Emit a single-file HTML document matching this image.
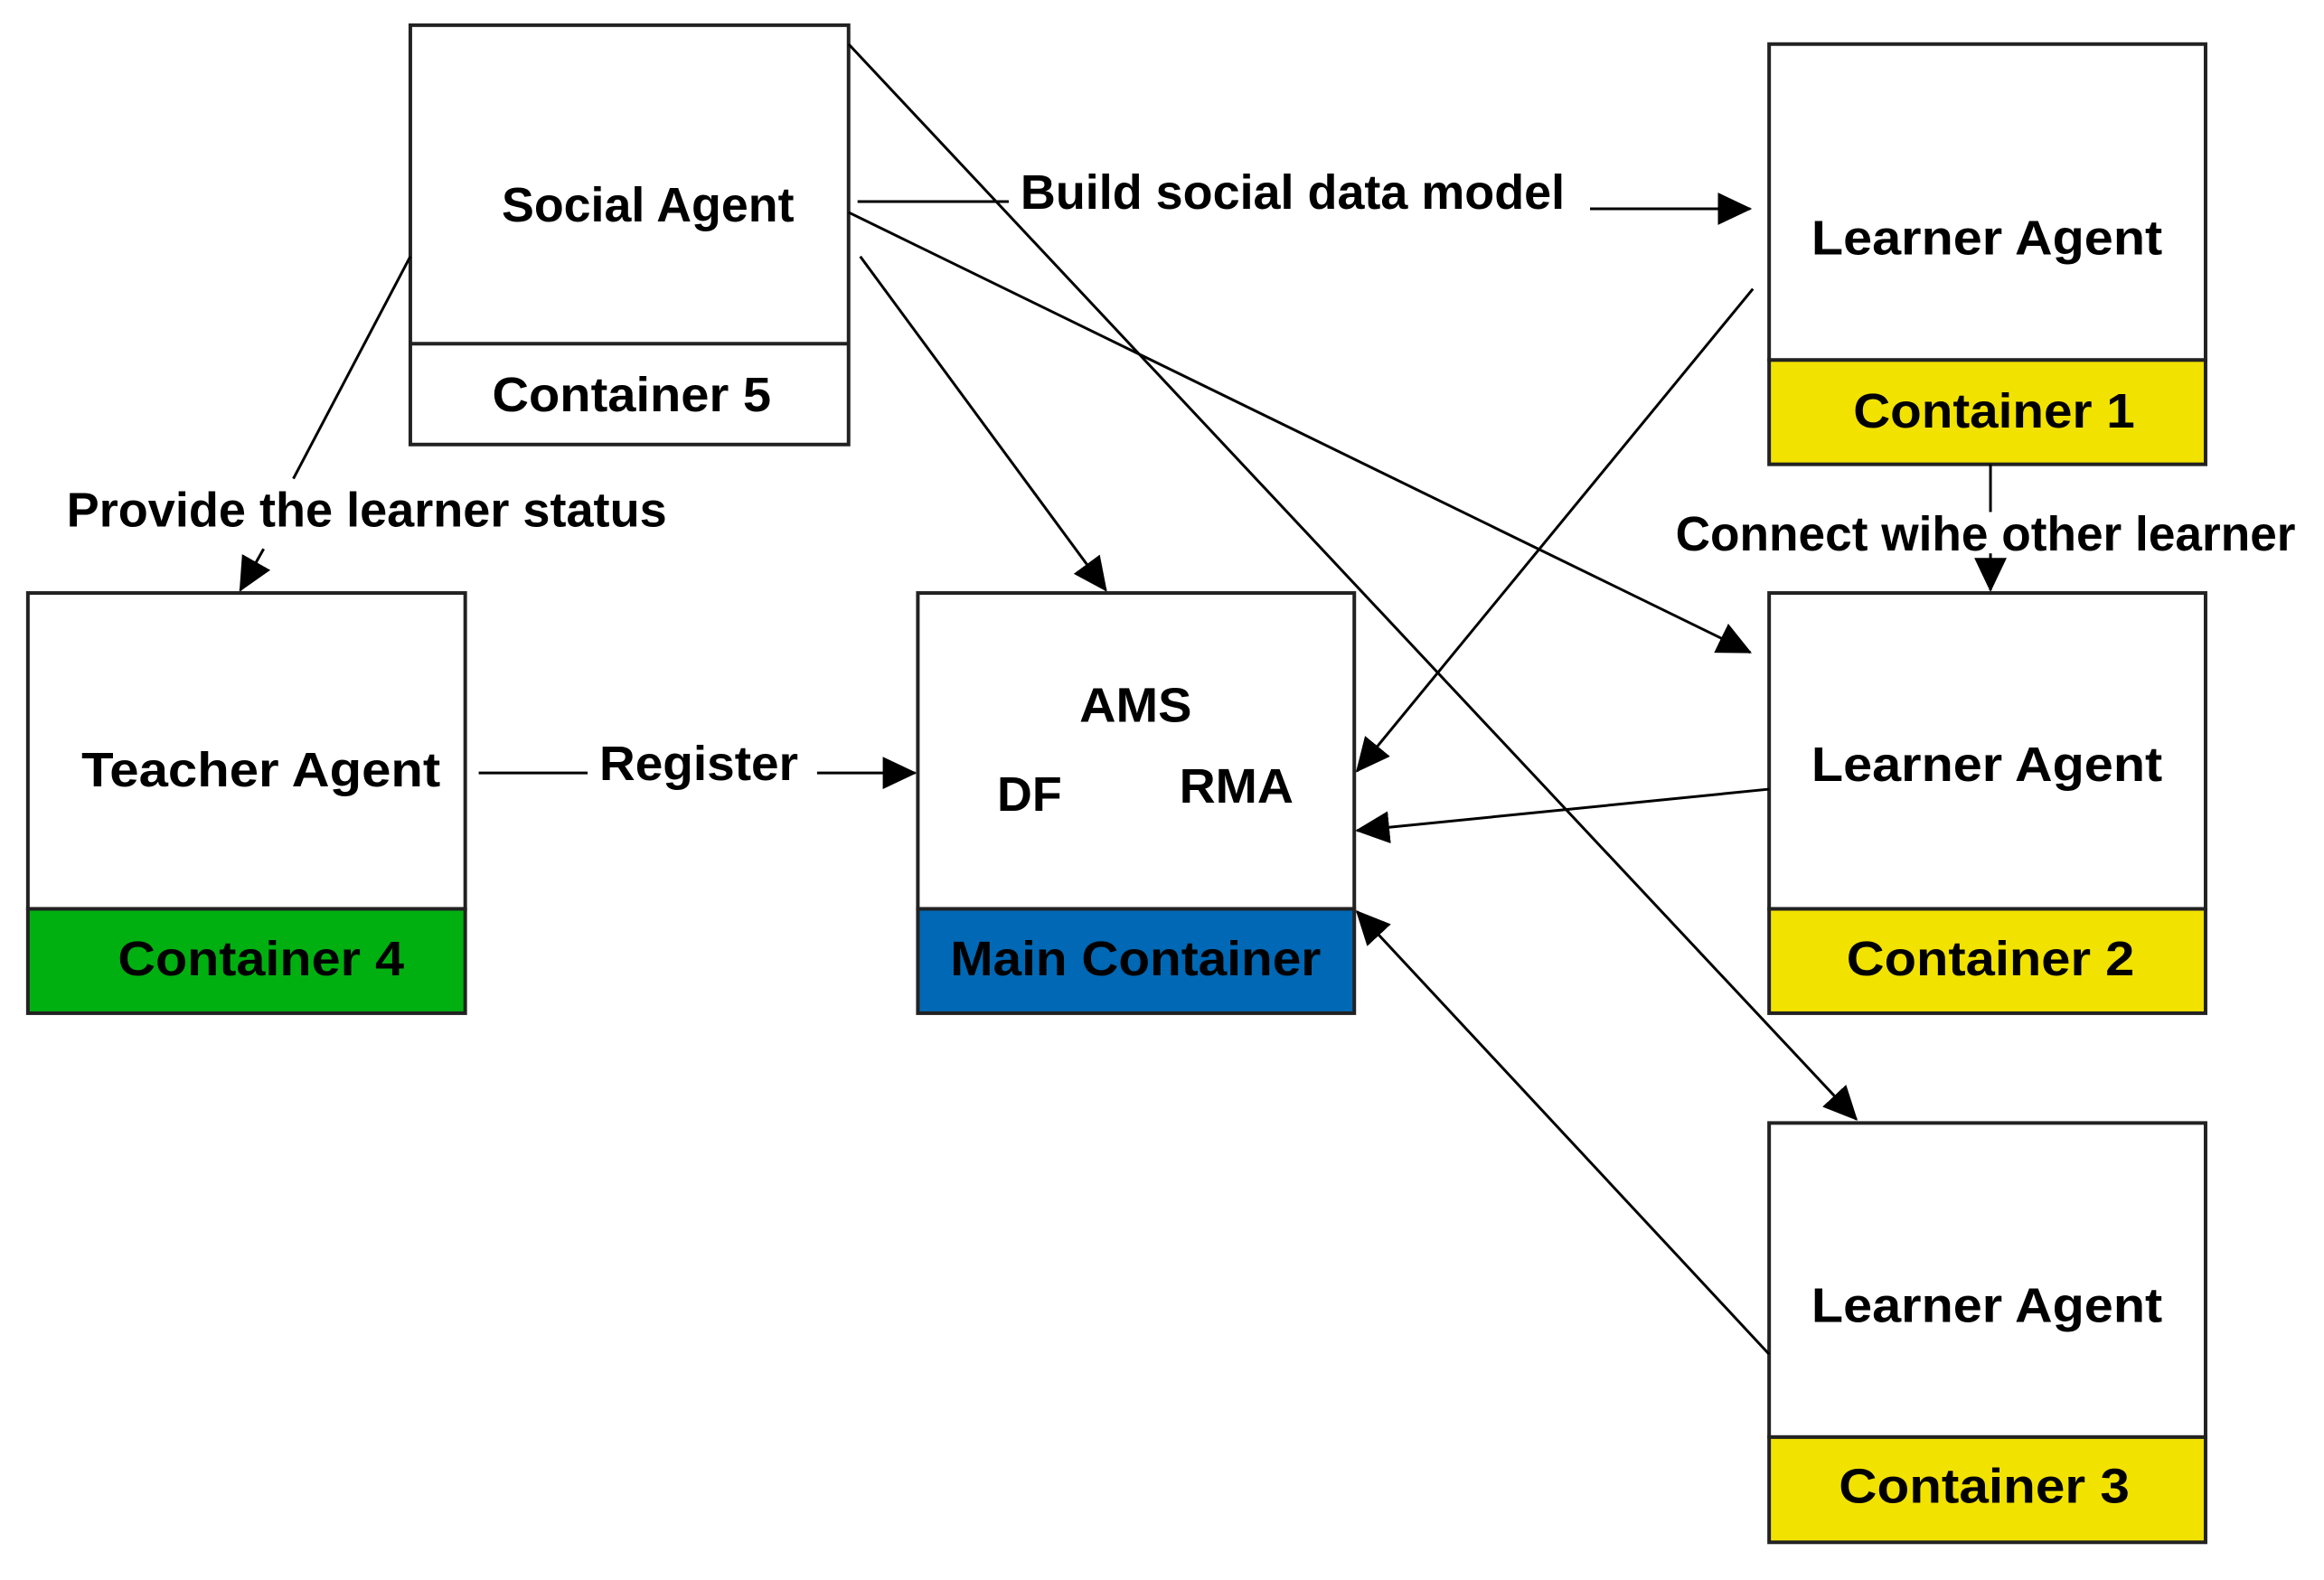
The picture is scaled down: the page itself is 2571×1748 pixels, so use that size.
<!DOCTYPE html>
<html><head><meta charset="utf-8"><style>
html,body{margin:0;padding:0;background:#fff;}
svg{display:block;}
text{font-family:"Liberation Sans",sans-serif;font-weight:bold;font-size:54px;fill:#000;}
</style></head><body>
<svg width="2571" height="1748" viewBox="0 0 2571 1748" xmlns="http://www.w3.org/2000/svg">
<defs>
<marker id="a" markerUnits="userSpaceOnUse" markerWidth="40" markerHeight="36" refX="36" refY="18" orient="auto">
<path d="M0,0 L38,18 L0,36 Z" fill="#000"/>
</marker>
</defs>
<g transform="scale(0.9955)">
<g stroke="#222" stroke-width="4">
<rect x="456" y="28" width="487" height="466" fill="#fff"/>
<line x1="456" y1="382" x2="943" y2="382"/>
<rect x="31" y="1010" width="486" height="116" fill="#00b010"/>
<rect x="31" y="659" width="486" height="351" fill="#fff"/>
<rect x="1020" y="1010" width="485" height="116" fill="#0068b4"/>
<rect x="1020" y="659" width="485" height="351" fill="#fff"/>
<rect x="1966" y="400" width="485" height="116" fill="#f2e200"/>
<rect x="1966" y="49" width="485" height="351" fill="#fff"/>
<rect x="1966" y="1010" width="485" height="116" fill="#f2e200"/>
<rect x="1966" y="659" width="485" height="351" fill="#fff"/>
<rect x="1966" y="1597" width="485" height="117" fill="#f2e200"/>
<rect x="1966" y="1248" width="485" height="349" fill="#fff"/>
</g>
<g stroke="#000" stroke-width="3" fill="none">
<line x1="943" y1="49" x2="2063" y2="1244" marker-end="url(#a)"/>
<line x1="953" y1="224" x2="1121" y2="224"/>
<line x1="1767" y1="232" x2="1945" y2="232" marker-end="url(#a)"/>
<line x1="943" y1="236" x2="1945" y2="725" marker-end="url(#a)"/>
<line x1="956" y1="285" x2="1229" y2="656" marker-end="url(#a)"/>
<line x1="456" y1="285" x2="326" y2="532"/>
<line x1="293" y1="610" x2="267" y2="656" marker-end="url(#a)"/>
<line x1="532" y1="859" x2="653" y2="859"/>
<line x1="908" y1="859" x2="1017" y2="859" marker-end="url(#a)"/>
<line x1="1948" y1="321" x2="1508" y2="857" marker-end="url(#a)"/>
<line x1="1966" y1="877" x2="1508" y2="923" marker-end="url(#a)"/>
<line x1="1966" y1="1505" x2="1508" y2="1013" marker-end="url(#a)"/>
<line x1="2212" y1="516" x2="2212" y2="569"/>
<line x1="2212" y1="615" x2="2212" y2="656" marker-end="url(#a)"/>
</g>
<g text-anchor="middle" lengthAdjust="spacingAndGlyphs">
<text x="720" y="246" textLength="325" lengthAdjust="spacingAndGlyphs">Social Agent</text>
<text x="702" y="457" textLength="310" lengthAdjust="spacingAndGlyphs">Container 5</text>
<text x="290" y="874" textLength="399" lengthAdjust="spacingAndGlyphs">Teacher Agent</text>
<text x="290" y="1084" textLength="318" lengthAdjust="spacingAndGlyphs">Container 4</text>
<text x="1262" y="802" textLength="125" lengthAdjust="spacingAndGlyphs">AMS</text>
<text x="1144" y="901" textLength="72" lengthAdjust="spacingAndGlyphs">DF</text>
<text x="1374" y="892" textLength="127" lengthAdjust="spacingAndGlyphs">RMA</text>
<text x="1262" y="1084" textLength="412" lengthAdjust="spacingAndGlyphs">Main Container</text>
<text x="2208" y="283" textLength="390" lengthAdjust="spacingAndGlyphs">Learner Agent</text>
<text x="2216" y="475" textLength="313" lengthAdjust="spacingAndGlyphs">Container 1</text>
<text x="2208" y="868" textLength="390" lengthAdjust="spacingAndGlyphs">Learner Agent</text>
<text x="2212" y="1084" textLength="320" lengthAdjust="spacingAndGlyphs">Container 2</text>
<text x="2208" y="1469" textLength="390" lengthAdjust="spacingAndGlyphs">Learner Agent</text>
<text x="2205" y="1670" textLength="323" lengthAdjust="spacingAndGlyphs">Container 3</text>
</g>
<text x="1134" y="232" textLength="605" lengthAdjust="spacingAndGlyphs">Build social data model</text>
<text x="74" y="585" textLength="667" lengthAdjust="spacingAndGlyphs">Provide the learner status</text>
<text x="666" y="867" textLength="221" lengthAdjust="spacingAndGlyphs">Register</text>
<text x="1862" y="612" textLength="689" lengthAdjust="spacingAndGlyphs">Connect wihe other learner</text>
</g>
</svg>
</body></html>
